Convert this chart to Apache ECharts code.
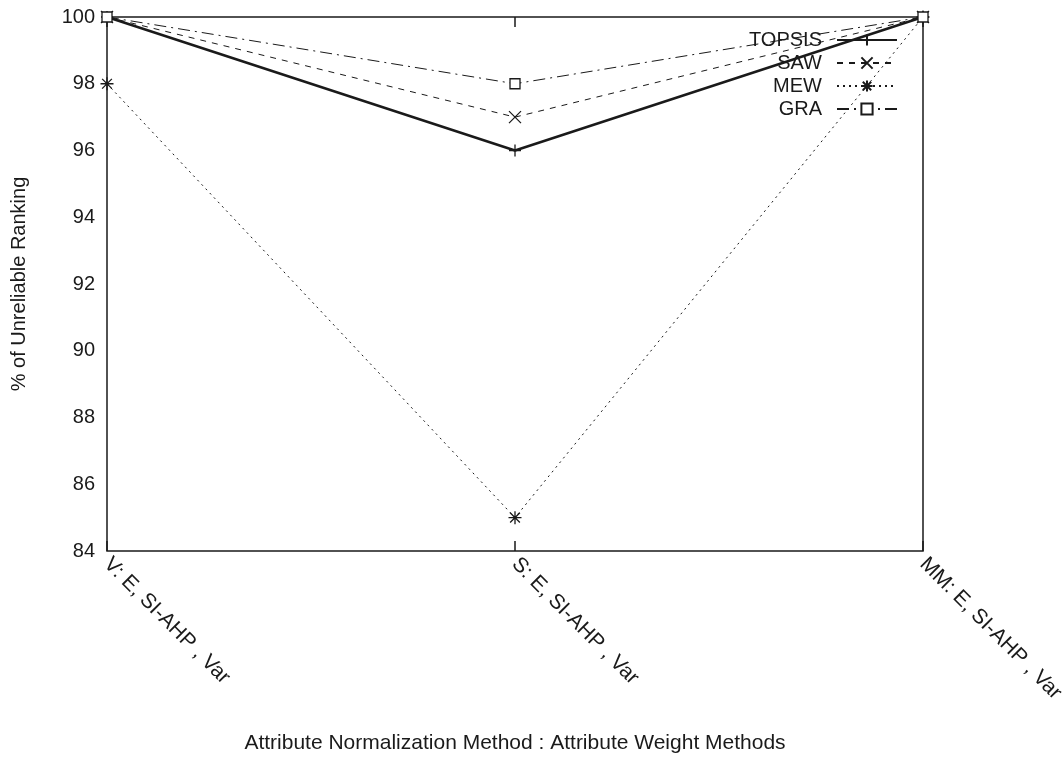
<!DOCTYPE html>
<html><head><meta charset="utf-8">
<script src="https://cdn.jsdelivr.net/npm/echarts@6/dist/echarts.min.js"></script>
<style>html,body{margin:0;padding:0;background:#fff}#c{width:1064px;height:760px}</style>
</head><body><div id="c"></div>
<script>
const categories = ['V: E, SI-AHP , Var', 'S: E, SI-AHP , Var', 'MM: E, SI-AHP , Var'];
const topsis = [100, 96, 100];
const saw = [100, 97, 100];
const mew = [98, 85, 100];
const gra = [100, 98, 100];
const yTicks = [84, 86, 88, 90, 92, 94, 96, 98, 100];

const FONT = 'Liberation Sans, Arial, sans-serif';
const C = '#1a1a1a';
const plus = 'path://M0,-1L0,1M-1,0L1,0';
const cross = 'path://M-1,-1L1,1M-1,1L1,-1';
const star = 'path://M0,-1L0,1M-1,0L1,0M-0.75,-0.75L0.75,0.75M-0.75,0.75L0.75,-0.75';
const square = 'path://M-1,-1L1,-1L1,1L-1,1Z';

function mk(name, data, sym, type, w, fill, size) {
  return {
    name, type: 'line', data, symbol: sym, symbolSize: size || 12, showSymbol: true,
    clip: false, animation: false,
    lineStyle: { color: C, width: w, type: type },
    itemStyle: { color: fill || 'none', borderColor: C, borderWidth: 1.3 }
  };
}

const chart = echarts.init(document.getElementById('c'));
chart.setOption({
  backgroundColor: '#fff',
  animation: false,
  grid: { left: 107, right: 141, top: 17, bottom: 209, containLabel: false, outerBoundsMode: 'none', show: true, borderColor: C, borderWidth: 1.5, backgroundColor: 'transparent' },
  legend: {
    orient: 'vertical', right: 166, top: 30, align: 'right', padding: 0,
    itemWidth: 60, itemHeight: 14, itemGap: 3,
    textStyle: { fontFamily: FONT, fontSize: 20, lineHeight: 20, color: C, padding: [0, 10, 0, 0] },
    data: ['TOPSIS', 'SAW', 'MEW', 'GRA']
  },
  xAxis: [{
    type: 'category', data: categories, boundaryGap: false, position: 'bottom',
    axisLine: { show: false }, axisTick: { inside: true, length: 10, lineStyle: { color: C, width: 1.5 } },
    axisLabel: { rotate: -45, margin: 10, fontFamily: FONT, fontSize: 21, color: C },
    splitLine: { show: false },
    name: 'Attribute Normalization Method : Attribute Weight Methods', nameLocation: 'middle', nameGap: 182,
    nameTextStyle: { fontFamily: FONT, fontSize: 21, color: C }
  }, {
    type: 'category', data: categories, boundaryGap: false, position: 'top',
    axisLine: { show: false }, axisTick: { inside: true, length: 10, lineStyle: { color: C, width: 1.5 } },
    axisLabel: { show: false }, splitLine: { show: false }
  }],
  yAxis: [{
    type: 'value', min: 84, max: 100, interval: 2,
    axisLine: { show: false }, axisTick: { inside: true, length: 10, lineStyle: { color: C, width: 1.5 } },
    axisLabel: { margin: 12, fontFamily: FONT, fontSize: 20, color: C, formatter: v => yTicks.includes(v) ? String(v) : '' },
    splitLine: { show: false },
    name: '% of Unreliable Ranking', nameLocation: 'middle', nameGap: 78,
    nameTextStyle: { fontFamily: FONT, fontSize: 20, color: C }
  }, {
    type: 'value', min: 84, max: 100, interval: 2, position: 'right',
    axisLine: { show: false }, axisTick: { inside: true, length: 10, lineStyle: { color: C, width: 1.5 } },
    axisLabel: { show: false }, splitLine: { show: false }
  }],
  series: [
    mk('TOPSIS', topsis, plus, 'solid', 2.5, null, 12),
    mk('SAW', saw, cross, [6, 6], 1, null, 12),
    mk('MEW', mew, star, [2, 4], 1, null, 13),
    mk('GRA', gra, square, [12, 5, 2, 5], 1, '#fff', 10)
  ]
});
</script></body></html>
